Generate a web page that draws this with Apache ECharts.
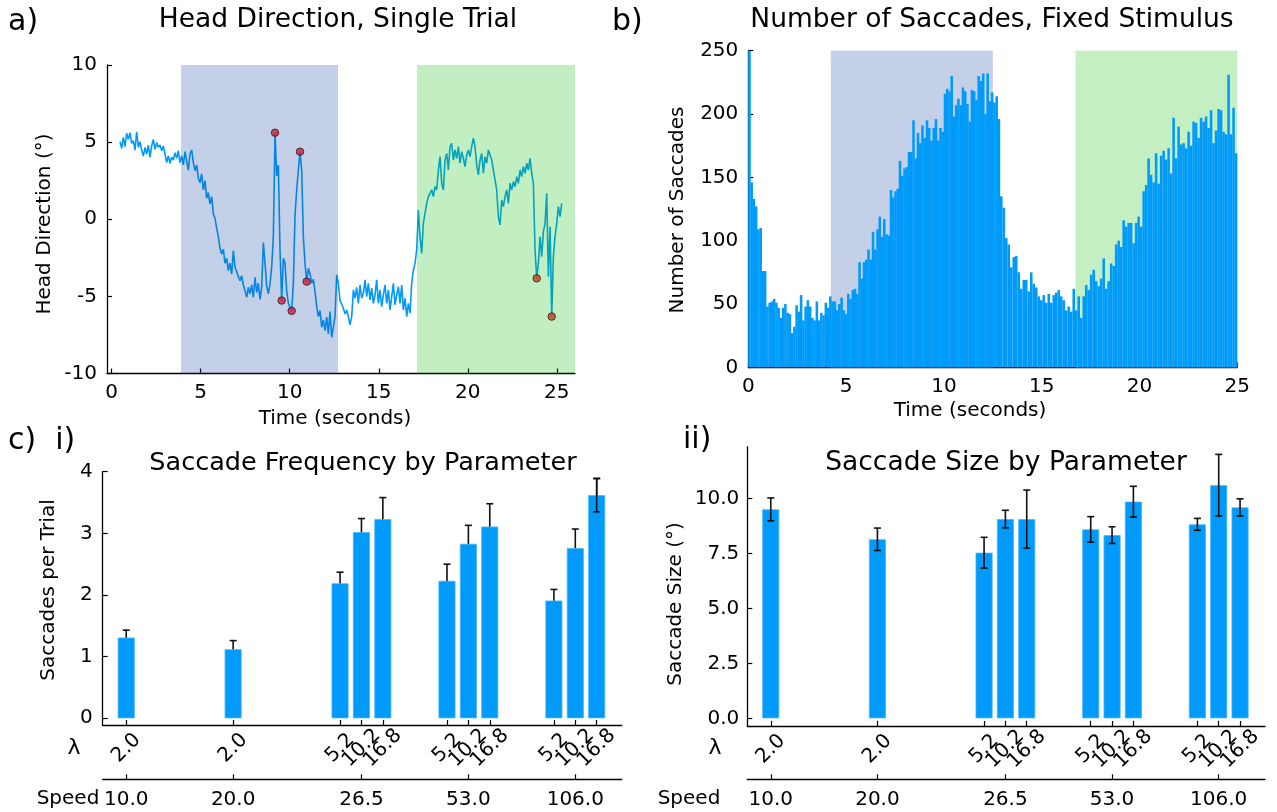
<!DOCTYPE html>
<html><head><meta charset="utf-8">
<script src="https://cdn.jsdelivr.net/npm/echarts@6/dist/echarts.min.js"></script>
<style>html,body{margin:0;padding:0;background:#fff}#c{width:1277px;height:812px}</style>
</head><body><div id="c"></div>
<script>
// ---------- Panel a: head direction trace ----------
const hdStart = 0.47;      // seconds, first sample
const hdStep = 0.0936;     // seconds between samples
const headDir = [
5.03,4.60,5.31,4.71,5.57,5.18,5.61,4.92,5.10,4.49,
5.66,4.66,5.03,4.49,4.10,4.66,4.23,4.81,4.02,4.75,
5.18,4.53,4.97,4.66,4.81,4.45,4.75,4.23,3.67,4.10,
3.63,4.02,3.84,4.32,3.95,4.45,3.67,4.10,3.52,4.38,
3.80,3.19,4.23,4.49,3.67,3.15,3.52,2.65,2.37,2.94,
1.90,2.50,1.36,1.73,0.99,1.47,0.34,0.06,-0.59,-1.13,
-1.88,-2.25,-1.95,-2.85,-2.53,-3.33,-2.85,-3.55,-2.03,-3.11,
-3.39,-3.72,-3.98,-3.67,-4.26,-4.63,-5.06,-4.41,-4.84,-4.26,
-5.06,-3.76,-4.75,-4.15,-5.19,-4.41,-1.51,-2.85,-4.32,-4.84,
-4.19,-3.11,-1.13,5.61,2.81,3.52,-1.99,-5.27,-2.53,-2.85,
-4.63,-5.45,-5.71,-5.94,-4.15,0.28,1.90,3.19,4.38,3.19,
-1.13,-2.85,-4.04,-3.18,-3.55,-4.15,-3.89,-4.69,-5.66,-6.31,
-5.92,-7.00,-6.53,-7.22,-6.35,-7.43,-5.99,-7.65,-7.00,-6.31,
-3.61,-4.15,-5.27,-5.49,-5.77,-6.14,-5.88,-6.31,-6.85,
-6.31,-4.58,-5.12,-4.41,-5.45,-4.26,-5.12,-4.80,-3.93,-5.01,
-4.15,-5.23,-4.47,-5.45,-4.91,-3.93,-5.45,-4.58,-5.66,-4.91,
-4.26,-5.45,-4.58,-5.88,-5.01,-4.15,-5.55,-4.91,-4.37,-5.45,
-4.26,-5.88,-5.12,-6.31,-5.45,-6.09,-4.15,-3.29,-2.85,-1.99,
0.60,-1.13,-2.21,-0.26,0.39,1.03,1.47,1.68,1.90,1.47,
2.11,1.90,3.19,4.06,2.33,1.90,3.84,4.27,3.19,4.71,
4.92,3.84,4.49,3.95,4.71,3.63,4.38,3.95,3.41,4.17,
4.49,4.06,4.71,5.25,4.71,3.52,2.87,3.84,4.27,2.98,
4.06,3.63,4.49,4.38,3.84,3.19,2.55,1.90,0.17,-0.37,
1.25,0.82,1.47,1.90,1.03,2.33,1.90,2.44,2.11,2.76,
2.33,3.19,2.76,3.41,2.98,3.63,3.19,3.95,2.98,2.33,
-1.99,-3.83,-2.85,-1.13,-2.42,-0.80,-0.26,1.68,-3.72,-0.48,
-6.31,-2.42,-1.13,-0.26,0.82,0.17,1.03
];
const saccadeIdx = [93, 97, 103, 108, 112, 250, 259];   // sample indices of detected saccades
const shadeA = [[3.90, 12.71], [17.15, 26.02]];        // seconds (stimulus periods)

// ---------- Panel b: histogram of saccade counts (two read-off stretches) ----------
const histEarly = [
250,146,133,127,109,110,76,76,48,51,52,54,51,47,39,47,50,43,42,27,
32,49,44,57,37,48,53,48,39,37,52,37,43,41,51,47,56,52,52,45,
50,55,45,42,58,54,61,62,58,83,70,83,85,93,85,107,93,109,119,103,
117,105,104,140,134,139,141,163,151,157,158,170,170,195,165,185,177,191,181,195,
189,179,189,196,179,189,186,216,220,218,230,198,207,212,207,221,218,208,194,219,
218,211,230,226,232,200,232,210,217,209,214,196
];
const histLate = [
135,126,102,97,79,87,88,75,62,69,69,60,75,66,63,56,53,57,51,58,
51,57,59,61,56,53,45,48,44,62,45,56,39,56,65,61,73,77,68,64,
70,86,62,68,82,80,97,100,95,116,111,114,114,98,114,119,111,139,144,165,
152,146,169,145,167,171,164,173,153,197,165,190,176,177,173,186,175,194,193,181,
197,194,198,189,203,177,187,204,203,186,184,231,184,205,169
];
const histSpans = [[0, 12.87], [12.87, 25]];   // seconds covered by histEarly / histLate
const shadeB = [[4.215, 12.5], [16.73, 25.0]];

// ---------- Panel c: parameters ----------
const speeds = ["10.0", "20.0", "26.5", "53.0", "106.0"];
const lambdas = [["2.0"], ["2.0"], ["5.2", "10.2", "16.8"], ["5.2", "10.2", "16.8"], ["5.2", "10.2", "16.8"]];
const freqMean = [1.31, 1.12, 2.19, 3.02, 3.23, 2.23, 2.83, 3.11, 1.91, 2.76, 3.62];
const freqErr  = [0.12, 0.14, 0.18, 0.22, 0.35, 0.27, 0.30, 0.37, 0.18, 0.31, 0.27];
const sizeMean = [9.50, 8.14, 7.53, 9.06, 9.06, 8.59, 8.33, 9.85, 8.82, 10.60, 9.59];
const sizeErr  = [0.52, 0.51, 0.70, 0.40, 1.32, 0.58, 0.38, 0.70, 0.27, 1.40, 0.39];
const freqErrOverBar = [false, false, false, false, false, false, false, false, false, false, true];

// ---------- build ----------
const BLUE = '#009AFA';
const FONT = '"DejaVu Sans", sans-serif';
const hdData = headDir.map((v, i) => [hdStart + i * hdStep, v]);
const dotData = saccadeIdx.map(i => hdData[i]);
const histData = [];
[histEarly, histLate].forEach((arr, k) => {
  const [a, b] = histSpans[k], w = (b - a) / arr.length;
  arr.forEach((c, i) => histData.push([a + (i + 0.5) * w, c]));
});
const binPx = 489 / histData.length;

const barX = [], barLam = [], groupX = [];
lambdas.forEach((g, k) => {
  const s = 1 + 5 * k;
  const xs = g.map((_, j) => s + j);
  xs.forEach((x, j) => { barX.push(x); barLam.push(g[j]); });
  groupX.push(xs.reduce((a, b) => a + b, 0) / xs.length);
});
const lamMap = {}; barX.forEach((x, i) => lamMap[x] = barLam[i]);
const spdMap = {}; groupX.forEach((x, i) => spdMap[x] = speeds[i]);
const X_MIN = -0.1, X_MAX = 24.17;
// blank guard labels at both ends so no real label is treated as the min/max label
const lamLabelValues = [X_MIN + 0.02].concat(barX, [X_MAX - 0.02]);

const axLine = { show: true, onZero: false, lineStyle: { color: '#000', width: 1.3 } };
const tick = (extra) => Object.assign({ show: true, inside: true, length: 5, lineStyle: { color: '#000', width: 1.2 } }, extra || {});
const lab = (extra) => Object.assign({ color: '#000', fontSize: 20, fontFamily: FONT }, extra || {});

function shadeRender(colors) {
  return function (params, api) {
    const cs = params.coordSys;
    const p0 = api.coord([api.value(0), 0]);
    const p1 = api.coord([api.value(1), 0]);
    const x0 = Math.max(p0[0], cs.x), x1 = Math.min(p1[0], cs.x + cs.width);
    return { type: 'rect', shape: { x: x0, y: cs.y, width: x1 - x0, height: cs.height },
      style: { fill: colors[params.dataIndex] } };
  };
}
function errRender(params, api) {
  const x = api.value(0), m = api.value(1), e = api.value(2);
  const t = api.coord([x, m + e]), b = api.coord([x, m - e]);
  const cw = 3.5, st = { stroke: '#111', lineWidth: 1.6 };
  return { type: 'group', children: [
    { type: 'line', shape: { x1: t[0], y1: t[1], x2: b[0], y2: b[1] }, style: st },
    { type: 'line', shape: { x1: t[0] - cw, y1: t[1], x2: t[0] + cw, y2: t[1] }, style: st },
    { type: 'line', shape: { x1: b[0] - cw, y1: b[1], x2: b[0] + cw, y2: b[1] }, style: st }
  ] };
}

const overlayA = ['rgba(15,67,163,0.25)', 'rgba(13,191,13,0.25)'];
const dotColors = dotData.map(d => d[0] > shadeA[1][0] ? '#c0461c' : '#cc1f3f');

function t(text, x, y, size, rot, align) {
  return { type: 'text', x: x, y: y, rotation: rot || 0, z: 100,
    style: { text: text, fill: '#000', font: size + 'px ' + FONT, align: align || 'center', verticalAlign: 'middle',
      textAlign: align || 'center', textVerticalAlign: 'middle' } };
}
const lamLabel = { customValues: lamLabelValues, rotate: 45, margin: 23, align: 'center', verticalAlign: 'middle',
  hideOverlap: false, formatter: v => lamMap[v] || '' };
const spdLabel = { customValues: groupX, margin: 10, hideOverlap: false, formatter: v => spdMap[v] || '' };

const option = {
  animation: false,
  backgroundColor: '#fff',
  grid: [
    { left: 107, top: 65, width: 468, height: 308.5 },
    { left: 748.3, top: 50.7, width: 489, height: 316.6 },
    { left: 102.7, top: 471.7, width: 519, height: 253.3 },
    { left: 747.3, top: 446.7, width: 517.7, height: 279.3 }
  ],
  xAxis: [
    { gridIndex: 0, type: 'value', min: -0.26, max: 26.02, axisLine: axLine,
      axisTick: tick({ customValues: [0, 5, 10, 15, 20, 25] }),
      axisLabel: lab({ customValues: [0, 5, 10, 15, 20, 25], margin: 9 }), splitLine: { show: false } },
    { gridIndex: 1, type: 'value', min: 0, max: 25, interval: 5, axisLine: axLine, axisTick: tick(),
      axisLabel: lab({ margin: 9 }), splitLine: { show: false } },
    { gridIndex: 2, type: 'value', min: X_MIN, max: X_MAX, axisLine: axLine,
      axisTick: tick({ customValues: barX }), axisLabel: lab(lamLabel), splitLine: { show: false } },
    { gridIndex: 2, type: 'value', position: 'bottom', offset: 54.3, min: X_MIN, max: X_MAX, axisLine: axLine,
      axisTick: tick({ customValues: groupX }), axisLabel: lab(spdLabel), splitLine: { show: false } },
    { gridIndex: 3, type: 'value', min: X_MIN, max: X_MAX, axisLine: axLine,
      axisTick: tick({ customValues: barX }), axisLabel: lab(lamLabel), splitLine: { show: false } },
    { gridIndex: 3, type: 'value', position: 'bottom', offset: 53.3, min: X_MIN, max: X_MAX, axisLine: axLine,
      axisTick: tick({ customValues: groupX }), axisLabel: lab(spdLabel), splitLine: { show: false } }
  ],
  yAxis: [
    { gridIndex: 0, type: 'value', min: -10, max: 10, interval: 5, axisLine: axLine, axisTick: tick(),
      axisLabel: lab({ margin: 10 }), splitLine: { show: false } },
    { gridIndex: 1, type: 'value', min: 0, max: 250, interval: 50, axisLine: axLine, axisTick: tick(),
      axisLabel: lab({ margin: 10 }), splitLine: { show: false } },
    { gridIndex: 2, type: 'value', min: -0.109, max: 4, axisLine: axLine,
      axisTick: tick({ customValues: [0, 1, 2, 3, 4] }),
      axisLabel: lab({ customValues: [0, 1, 2, 3, 4], margin: 10 }), splitLine: { show: false } },
    { gridIndex: 3, type: 'value', min: -0.35, max: 12.35, axisLine: axLine,
      axisTick: tick({ customValues: [0, 2.5, 5, 7.5, 10] }),
      axisLabel: lab({ customValues: [0, 2.5, 5, 7.5, 10], margin: 8, formatter: v => v.toFixed(1) }), splitLine: { show: false } }
  ],
  series: [
    // panel a
    { type: 'line', xAxisIndex: 0, yAxisIndex: 0, data: hdData, showSymbol: false, z: 2,
      lineStyle: { color: BLUE, width: 1.6 }, silent: true },
    { type: 'custom', xAxisIndex: 0, yAxisIndex: 0, data: shadeA, z: 3, silent: true,
      renderItem: shadeRender(overlayA) },
    { type: 'scatter', xAxisIndex: 0, yAxisIndex: 0, data: dotData, z: 4, symbolSize: 7.5,
      itemStyle: { color: p => dotColors[p.dataIndex], borderColor: '#2a1a1a', borderWidth: 1 } },
    // panel b
    { type: 'custom', xAxisIndex: 1, yAxisIndex: 1, data: shadeB, z: 1, silent: true,
      renderItem: shadeRender(['#c3d0e8', '#c3efc3']) },
    { type: 'bar', xAxisIndex: 1, yAxisIndex: 1, data: histData, z: 2,
      barWidth: binPx + 0.2, itemStyle: { color: BLUE }, silent: true },
    // panel c i
    { type: 'custom', xAxisIndex: 2, yAxisIndex: 2, z: 1,
      data: barX.map((x, i) => [x, freqMean[i], freqErr[i]]), renderItem: errRender },
    { type: 'bar', xAxisIndex: 2, yAxisIndex: 2, z: 2, barWidth: 17,
      data: barX.map((x, i) => [x, freqMean[i]]),
      itemStyle: { color: BLUE, borderColor: '#45b5fb', borderWidth: 0.8 } },
    { type: 'custom', xAxisIndex: 2, yAxisIndex: 2, z: 3,
      data: barX.map((x, i) => [x, freqMean[i], freqErr[i]]).filter((d, i) => freqErrOverBar[i]), renderItem: errRender },
    // panel c ii
    { type: 'bar', xAxisIndex: 4, yAxisIndex: 3, z: 2, barWidth: 17,
      data: barX.map((x, i) => [x, sizeMean[i]]),
      itemStyle: { color: BLUE, borderColor: '#45b5fb', borderWidth: 0.8 } },
    { type: 'custom', xAxisIndex: 4, yAxisIndex: 3, z: 3,
      data: barX.map((x, i) => [x, sizeMean[i], sizeErr[i]]), renderItem: errRender }
  ],
  graphic: [
    t('a)', 8, 22, 30, 0, 'left'),
    t('Head Direction, Single Trial', 338, 20, 26.5),
    t('Head Direction (°)', 45, 224, 20, Math.PI / 2),
    t('Time (seconds)', 335, 419, 20),
    t('b)', 612, 22, 30, 0, 'left'),
    t('Number of Saccades, Fixed Stimulus', 992, 20, 26.5),
    t('Number of Saccades', 678, 210, 20, Math.PI / 2),
    t('Time (seconds)', 970, 411, 20),
    t('c)  i)', 8, 441, 30, 0, 'left'),
    t('Saccade Frequency by Parameter', 363, 463, 25.5),
    t('Saccades per Trial', 49, 590, 20, Math.PI / 2),
    t('λ', 74, 748, 22),
    t('Speed', 68, 799, 20),
    t('ii)', 683, 440, 30, 0, 'left'),
    t('Saccade Size by Parameter', 1006, 463, 26.5),
    t('Saccade Size (°)', 676, 604, 20, Math.PI / 2),
    t('λ', 715, 748, 22),
    t('Speed', 689, 799, 20)
  ]
};
const chart = echarts.init(document.getElementById('c'), null, { renderer: 'canvas' });
chart.setOption(option);
</script>
</body></html>
